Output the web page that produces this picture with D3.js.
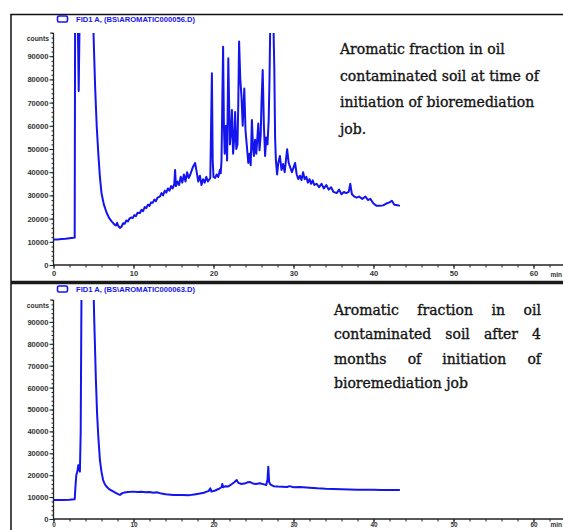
<!DOCTYPE html>
<html>
<head>
<meta charset="utf-8">
<script src="https://cdn.jsdelivr.net/npm/d3@7"></script>
<style>
  html, body { margin: 0; padding: 0; background: #fff; }
  svg { display: block; }
</style>
</head>
<body>
<svg id="chart" width="563" height="530"></svg>
<script>
// ---------- DATA ----------
const headerTop = "FID1 A, (BS\\AROMATIC000056.D)";
const headerBottom = "FID1 A, (BS\\AROMATIC000063.D)";
const yTickValues = [0, 10000, 20000, 30000, 40000, 50000, 60000, 70000, 80000, 90000];
const xTickValues = [0, 10, 20, 30, 40, 50, 60];
const yLabel = "counts";
const xUnit = "min";

const noteTop = ["Aromatic fraction in oil", "contaminated soil at time of", "initiation of bioremediation", "job."];
const noteBottom = ["Aromatic fraction in oil", "contaminated soil after 4", "months of initiation of", "bioremediation job"];

// Chromatogram 1 (start of bioremediation): retention time (min), counts
const topTime = [0.0,0.5,1.0,1.5,2.0,2.5,2.65,2.7,2.9,3.05,3.15,3.25,3.35,4.0,4.9,5.0,5.2,5.4,5.6,5.8,6.0,6.3,6.65,7.0,7.3,7.6,7.8,7.95,8.1,8.3,8.5,8.7,8.9,9.1,9.3,9.5,9.7,9.9,10.1,10.3,10.5,10.8,11.0,11.2,11.4,11.6,11.8,12.0,12.2,12.4,12.6,12.8,13.0,13.3,13.5,13.7,13.9,14.1,14.3,14.5,14.7,14.9,15.1,15.2,15.3,15.5,15.7,15.9,16.1,16.3,16.5,16.7,16.9,17.1,17.4,17.7,17.9,18.1,18.3,18.5,18.7,18.9,19.1,19.3,19.6,19.7,19.8,19.9,20.0,20.2,20.4,20.6,20.8,20.9,21.0,21.1,21.2,21.3,21.4,21.55,21.7,21.85,21.95,22.05,22.2,22.3,22.45,22.6,22.7,22.85,23.0,23.1,23.2,23.35,23.5,23.65,23.85,24.0,24.2,24.35,24.5,24.65,24.8,24.95,25.05,25.2,25.35,25.6,25.75,25.9,26.0,26.15,26.3,26.45,26.6,26.75,26.9,27.0,27.1,27.35,27.5,27.6,27.7,27.8,27.95,28.1,28.3,28.5,28.7,28.9,29.2,29.4,29.6,29.8,30.0,30.2,30.4,30.6,30.8,31.0,31.2,31.4,31.6,31.8,32.0,32.2,32.4,32.6,32.9,33.2,33.5,33.8,34.1,34.4,34.7,35.0,35.4,35.7,36.0,36.3,36.6,36.9,37.1,37.3,37.6,37.9,38.2,38.6,39.0,39.3,39.6,40.0,40.4,40.8,41.2,41.6,42.0,42.3,42.6,43.0,43.3];
const topCounts = [11000,11000,11200,11300,11500,11700,11800,105000,105000,102000,75000,102000,110000,120000,110000,100000,77000,60000,48000,38000,31000,26000,22400,20000,18700,17500,17000,18200,16800,16000,16500,18000,17800,19200,18800,20000,20500,20200,21500,21000,22500,22400,23800,23200,25000,24500,26000,25500,27000,26800,28200,27500,29000,29500,31000,30000,32000,31200,33000,32000,34000,33000,35000,41000,34000,36000,34500,38000,35500,39000,36000,40000,37500,39000,42000,44000,40000,36000,38500,34500,37000,35500,38000,36000,37500,60000,82600,45000,38000,37500,39000,38000,41000,39500,45000,70000,94100,60000,48000,60000,45000,89100,70000,52000,58000,66800,48000,55000,66000,50000,52000,70000,96300,80000,72600,60000,76100,58000,50000,44000,48000,43000,62500,50000,47000,54000,48000,61000,49500,56000,70000,84000,60000,47000,55000,52000,62500,80000,105000,104000,102000,85000,55000,45000,39000,44000,47000,41000,43500,40000,49900,44000,42000,40000,42000,44000,39000,37000,38500,36600,40000,37000,38000,35500,37000,35000,36500,34500,35000,33500,35000,33000,34500,32500,33500,31500,31000,32500,30500,31500,31000,31500,35000,30500,29500,29000,29500,28500,29500,28000,28500,26500,25500,25500,25700,26500,27000,27700,26000,25800,25500];

// Chromatogram 2 (after 4 months)
const bottomTime = [0,1,2,2.65,2.75,2.85,3.0,3.1,3.2,3.3,3.4,3.5,4.2,5.0,5.1,5.3,5.45,5.6,5.8,6.0,6.2,6.4,6.65,7.0,7.5,8.0,8.3,8.6,8.9,9.3,10,10.5,11,11.5,12,12.5,12.9,13.5,14,15,16,17,17.6,18.3,18.8,19.15,19.4,19.6,19.75,20.2,20.7,21.0,21.1,21.2,21.5,21.8,22.1,22.3,22.6,22.9,23.1,23.5,24.0,24.3,24.6,24.9,25.3,25.8,26.3,26.6,26.75,26.85,26.95,27.1,27.5,28,28.6,29.2,29.5,30,30.8,32,33,34,35,36,37,38,39,40,41,42,43.3];
const bottomCounts = [8700,8700,8800,9000,15000,20000,22000,24600,22500,21600,40000,105000,110000,105000,90000,63500,48000,37600,27000,21500,17800,16000,14700,13500,12500,11500,11000,11800,12100,12300,12500,12300,12400,12200,12300,12000,12200,11600,11300,11000,11000,10900,11200,11600,12000,12500,12800,14000,12500,13000,13800,14500,16000,14500,15000,14800,15500,16000,16800,17800,16500,16000,16300,16800,16900,16200,16000,16300,15800,15500,18000,23900,17000,15800,15000,14800,14700,14600,15000,14500,14600,14300,14000,13800,13700,13600,13500,13400,13300,13300,13200,13200,13200];

// ---------- DRAWING ----------
const svg = d3.select("#chart");
const W = 563, H = 530;
const traceColor = "#1414ee";
const axisColor = "#222";
const tickFont = "Liberation Sans, Arial, sans-serif";

const x = d3.scaleLinear().domain([0, 60]).range([53.5, 533.5]);

// outer frames
svg.append("line").attr("x1", 10.5).attr("x2", W).attr("y1", 14.5).attr("y2", 14.5)
  .attr("stroke", "#111").attr("stroke-width", 1.5);
svg.append("line").attr("x1", 11).attr("x2", 11).attr("y1", 14).attr("y2", H)
  .attr("stroke", "#111").attr("stroke-width", 1.5);
svg.append("line").attr("x1", 11).attr("x2", W).attr("y1", 282.5).attr("y2", 282.5)
  .attr("stroke", "#1a1a1a").attr("stroke-width", 3.5);

function panel(cfg) {
  const g = svg.append("g");
  const y = d3.scaleLinear().domain([0, 100000]).range([cfg.y0, cfg.y1]);

  // header legend icon + text
  g.append("rect").attr("x", 57.5).attr("y", cfg.hy - 5).attr("width", 10).attr("height", 6)
    .attr("rx", 1.5).attr("fill", "none").attr("stroke", traceColor).attr("stroke-width", 1.6);
  g.append("text").attr("x", 76).attr("y", cfg.hy + 1)
    .attr("font-family", tickFont).attr("font-size", 7.4)
    .attr("font-weight", "bold").attr("fill", traceColor)
    .attr("textLength", 119).attr("lengthAdjust", "spacingAndGlyphs")
    .text(cfg.header);

  // y axis
  const yAx = d3.axisLeft(y).tickValues(yTickValues).tickSize(4).tickFormat(d3.format("d"));
  const ya = g.append("g").attr("transform", "translate(53.5,0)").call(yAx);
  ya.select(".domain").remove();
  const yMinor = d3.range(0, 100001, 2000);
  g.append("g").attr("transform", "translate(53.5,0)")
    .call(d3.axisLeft(y).tickValues(yMinor).tickSize(2).tickFormat(""))
    .select(".domain").remove();
  g.append("line").attr("x1", 53.5).attr("x2", 53.5).attr("y1", y(100000)).attr("y2", y(0))
    .attr("stroke", axisColor).attr("stroke-width", 1.3);
  g.append("line").attr("x1", 50).attr("x2", 53.5).attr("y1", y(100000)).attr("y2", y(100000))
    .attr("stroke", axisColor).attr("stroke-width", 1);
  g.append("text").attr("x", 49).attr("y", y(100000) + 7.5).attr("text-anchor", "end")
    .attr("font-family", tickFont).attr("font-size", 6.8)
    .attr("font-weight", "bold").attr("fill", "#333").text(yLabel);

  // x axis
  const xa = g.append("g").attr("transform", `translate(0,${y(0)})`)
    .call(d3.axisBottom(x).tickValues(xTickValues).tickSize(4).tickFormat(d3.format("d")));
  xa.select(".domain").remove();
  g.append("g").attr("transform", `translate(0,${y(0)})`)
    .call(d3.axisBottom(x).tickValues(d3.range(0, 64, 2)).tickSize(2.5).tickFormat(""))
    .select(".domain").remove();
  g.append("line").attr("x1", 53.5).attr("x2", W).attr("y1", y(0)).attr("y2", y(0))
    .attr("stroke", axisColor).attr("stroke-width", 1.3);
  g.append("text").attr("x", 562).attr("y", y(0) + cfg.minDy).attr("text-anchor", "end")
    .attr("font-family", tickFont).attr("font-size", 6.5)
    .attr("font-weight", "bold").attr("fill", "#333").text(xUnit);

  g.selectAll(".tick line").attr("stroke", axisColor).attr("stroke-width", 1);
  g.selectAll(".tick text").attr("font-family", tickFont)
    .attr("font-size", 7.6).attr("font-weight", "bold").attr("fill", "#333");
  ya.selectAll(".tick text").attr("x", -5);
  xa.selectAll(".tick text").attr("y", cfg.xLabDy).attr("font-size", cfg.xLabSize);

  // trace
  const clipId = "clip" + cfg.id;
  svg.append("clipPath").attr("id", clipId).append("rect")
    .attr("x", 53.5).attr("y", y(100000)).attr("width", W - 53.5).attr("height", y(0) - y(100000));
  const data = cfg.time.map((t, i) => ({ t, c: cfg.counts[i] }));
  g.append("path").datum(data).attr("clip-path", `url(#${clipId})`)
    .attr("fill", "none").attr("stroke", traceColor).attr("stroke-width", 2)
    .attr("stroke-linejoin", "round")
    .attr("d", d3.line().x(d => x(d.t)).y(d => y(d.c)));
  return g;
}

panel({ id: "a", y0: 265, y1: 33, hy: 21, minDy: 12, xLabDy: 6, xLabSize: 7.6, header: headerTop, time: topTime, counts: topCounts });
panel({ id: "b", y0: 519, y1: 300, hy: 291, minDy: 8, xLabDy: 3.5, xLabSize: 6.4, header: headerBottom, time: bottomTime, counts: bottomCounts });

// annotations
const noteFont = "DejaVu Serif, Liberation Serif, serif";
const noteColor = "#141414";
const topNote = svg.append("g");
noteTop.forEach((line, i) => {
  topNote.append("text").attr("x", 340).attr("y", 54 + i * 26.5)
    .attr("font-family", noteFont).attr("font-size", 14).attr("fill", noteColor)
    .attr("stroke", noteColor).attr("stroke-width", 0.35).text(line);
});

const botNote = svg.append("g");
const bx0 = 334, bx1 = 541;
noteBottom.forEach((line, i) => {
  const yy = 315 + i * 24.3;
  const words = line.split(" ");
  const justify = i < noteBottom.length - 1;
  const nodes = words.map(w => botNote.append("text").attr("y", yy)
    .attr("font-family", noteFont).attr("font-size", 14).attr("fill", noteColor)
    .attr("stroke", noteColor).attr("stroke-width", 0.35).text(w));
  const widths = nodes.map(n => n.node().getComputedTextLength());
  const total = widths.reduce((a, b) => a + b, 0);
  const gap = justify ? (bx1 - bx0 - total) / (words.length - 1) : 4.5;
  let cx = bx0;
  nodes.forEach((n, k) => { n.attr("x", cx); cx += widths[k] + gap; });
});
</script>
</body>
</html>
